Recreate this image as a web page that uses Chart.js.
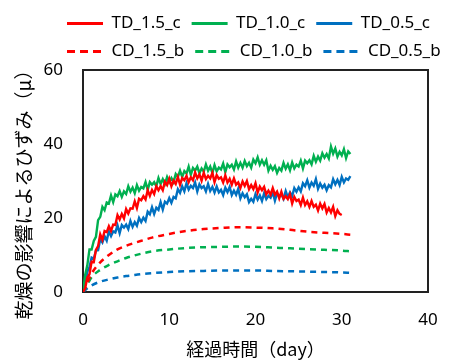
<!DOCTYPE html>
<html>
<head>
<meta charset="utf-8">
<script src="https://cdn.jsdelivr.net/npm/chart.js@4"></script>
<style>
  html, body { margin: 0; padding: 0; background: #fff; }
</style>
</head>
<body>
<canvas id="myChart" width="450" height="360"></canvas>
<script>
// measured series are read every quarter day
const tdDays = [0, 0.25, 0.5, 0.75, 1, 1.25, 1.5, 1.75, 2, 2.25, 2.5, 2.75, 3, 3.25, 3.5, 3.75,
  4, 4.25, 4.5, 4.75, 5, 5.25, 5.5, 5.75, 6, 6.25, 6.5, 6.75, 7, 7.25, 7.5, 7.75,
  8, 8.25, 8.5, 8.75, 9, 9.25, 9.5, 9.75, 10, 10.25, 10.5, 10.75, 11, 11.25, 11.5, 11.75,
  12, 12.25, 12.5, 12.75, 13, 13.25, 13.5, 13.75, 14, 14.25, 14.5, 14.75, 15, 15.25, 15.5, 15.75,
  16, 16.25, 16.5, 16.75, 17, 17.25, 17.5, 17.75, 18, 18.25, 18.5, 18.75, 19, 19.25, 19.5, 19.75,
  20, 20.25, 20.5, 20.75, 21, 21.25, 21.5, 21.75, 22, 22.25, 22.5, 22.75, 23, 23.25, 23.5, 23.75,
  24, 24.25, 24.5, 24.75, 25, 25.25, 25.5, 25.75, 26, 26.25, 26.5, 26.75, 27, 27.25, 27.5, 27.75,
  28, 28.25, 28.5, 28.75, 29, 29.25, 29.5, 29.75, 30, 30.25, 30.5, 30.75, 31]

// TD_1.5_c stops at day 30
const td15 = [0, 1.0, 3.9, 4.8, 8.2, 8.1, 11.4, 12.4, 15.6, 14.1, 16.5, 16.2, 17.8, 16.5, 18.2, 18.1,
  20.8, 19.6, 21.1, 19.9, 22.4, 21.2, 22.6, 22.5, 24.5, 22.7, 25.2, 24.8, 25.9, 25.0, 27.5, 26.0,
  27.6, 26.5, 28.6, 27.5, 28.6, 27.5, 29.8, 28.9, 30.6, 28.6, 30.1, 29.2, 31.1, 29.0, 30.8, 30.2,
  31.4, 29.7, 31.0, 30.2, 32.3, 30.7, 31.8, 30.1, 32.2, 30.5, 31.4, 30.7, 32.2, 29.7, 31.6, 30.6,
  31.0, 29.6, 31.5, 29.6, 30.6, 29.0, 30.7, 29.0, 29.6, 28.1, 29.9, 28.7, 30.0, 27.8, 28.9, 27.8,
  29.4, 26.9, 28.5, 27.5, 28.4, 26.4, 27.4, 26.3, 28.1, 26.3, 27.1, 25.3, 27.1, 25.2, 25.9, 25.1,
  26.4, 23.9, 25.7, 24.6, 25.0, 23.5, 25.5, 23.5, 24.5, 23.0, 24.6, 23.0, 23.6, 22.0, 23.9, 22.6,
  23.8, 21.5, 22.7, 21.5, 23.0, 20.5, 22.1, 21.1, 20.8]

const td10 = [0, 4.6, 7.2, 11.5, 11.5, 13.8, 14.9, 19.4, 20.3, 23.0, 22.1, 24.2, 23.9, 26.1, 24.3, 26.4,
  25.9, 27.3, 25.7, 27.2, 26.5, 28.6, 27.1, 28.2, 26.7, 28.9, 27.4, 28.4, 28.0, 29.7, 27.6, 29.7,
  29.0, 29.7, 28.6, 30.8, 29.2, 30.5, 29.2, 31.1, 29.7, 30.8, 29.7, 31.9, 31.1, 32.8, 31.1, 32.7,
  32.0, 33.9, 31.7, 33.5, 32.8, 33.9, 32.1, 33.4, 32.5, 34.5, 32.8, 33.9, 32.2, 34.3, 32.6, 33.6,
  33.1, 34.7, 32.4, 34.5, 33.7, 34.4, 33.1, 35.3, 33.6, 34.9, 33.6, 35.4, 34.0, 34.9, 33.6, 35.8,
  34.8, 36.4, 34.4, 35.6, 34.4, 35.6, 32.8, 34.1, 33.0, 34.0, 32.2, 33.5, 32.8, 34.9, 33.3, 34.5,
  32.9, 35.0, 33.4, 34.4, 33.9, 35.5, 33.4, 35.5, 34.8, 35.6, 34.5, 36.8, 35.2, 36.6, 35.5, 37.5,
  36.3, 37.3, 36.1, 39.3, 37.4, 38.8, 36.6, 37.9, 36.9, 38.6, 36.2, 38.0, 37.3]

const td05 = [0, 1.8, 5.5, 6.7, 9.3, 9.0, 11.2, 11.3, 14.3, 13.4, 15.1, 13.9, 16.4, 15.1, 16.4, 16.1,
  18.0, 15.9, 18.1, 17.4, 18.2, 17.0, 19.2, 17.6, 18.9, 17.9, 20.0, 18.9, 20.1, 19.2, 21.7, 21.0,
  22.9, 21.1, 22.8, 22.2, 24.3, 22.3, 24.4, 23.9, 25.4, 24.1, 25.7, 25.3, 27.8, 26.8, 28.6, 27.2,
  29.4, 27.7, 28.7, 28.1, 29.6, 27.2, 29.1, 28.1, 28.6, 27.2, 29.2, 27.3, 28.4, 26.9, 28.5, 26.9,
  27.6, 26.2, 28.2, 27.0, 28.4, 26.2, 27.4, 26.3, 27.9, 25.3, 26.7, 25.6, 26.4, 24.3, 25.2, 24.4,
  26.5, 25.0, 26.1, 24.6, 26.7, 25.1, 26.0, 25.5, 27.0, 24.7, 26.7, 25.8, 26.4, 25.2, 27.3, 25.6,
  26.9, 25.9, 28.1, 27.1, 28.3, 27.2, 29.4, 28.6, 30.2, 28.2, 29.6, 28.7, 30.5, 27.9, 29.3, 28.2,
  29.0, 27.5, 28.9, 28.3, 30.5, 29.1, 30.3, 28.9, 31.1, 29.6, 30.7, 30.3, 31.3]

// calculated (smooth) series
const cdDays = [0, 0.5, 1, 2, 3, 4, 5, 6, 7, 8, 10, 12, 14, 16, 18, 20, 22, 24, 26, 28, 30, 31]
const cd15 = [0, 2.5, 5, 8, 10, 11.5, 12.5, 13.3, 14, 14.7, 15.7, 16.5, 17, 17.3, 17.5, 17.4, 17.2, 16.8, 16.3, 16, 15.7, 15.5]
const cd10 = [0, 2, 4, 6, 7.3, 8.3, 9.2, 9.9, 10.5, 11, 11.5, 11.9, 12.1, 12.2, 12.3, 12.2, 12, 11.8, 11.6, 11.4, 11.2, 11.0]
const cd05 = [0, 1, 1.8, 2.8, 3.4, 3.9, 4.3, 4.6, 4.9, 5.1, 5.4, 5.6, 5.7, 5.8, 5.8, 5.8, 5.7, 5.6, 5.5, 5.4, 5.3, 5.2]

const xTicks = [0, 10, 20, 30, 40]
const yTicks = [0, 20, 40, 60]

const RED = '#ff0000'
const GREEN = '#00b050'
const BLUE = '#0070c0'

const pts = (xs, ys) => ys.map((y, i) => ({x: xs[i], y: y}))

const solid = (label, xs, ys, color) => ({
  label, data: pts(xs, ys), borderColor: color, backgroundColor: color,
  borderWidth: 2.4, pointRadius: 0, tension: 0,
})
const dashed = (label, xs, ys, color) => ({
  label, data: pts(xs, ys), borderColor: color, backgroundColor: color,
  borderWidth: 2.5, borderDash: [6, 5], pointRadius: 0, cubicInterpolationMode: 'monotone',
})

const FONT = "'Noto Sans', 'Noto Sans CJK JP', sans-serif"
const JP = "'Noto Sans CJK JP', 'Noto Sans', sans-serif"

// black frame round the plot area
const frame = {
  id: 'frame',
  beforeDatasetsDraw(chart) {
    const {ctx, chartArea: a} = chart
    ctx.save()
    ctx.strokeStyle = '#222'
    ctx.lineWidth = 2
    ctx.strokeRect(a.left, a.top, a.right - a.left, a.bottom - a.top)
    ctx.restore()
  },
}

// move the legend block to where the reference has it
const legendShift = {
  id: 'legendShift',
  beforeDraw(chart) {
    const lg = chart.legend
    if (lg._moved) return
    lg.left += 56
    lg.right += 56
    lg._moved = true
  },
}

const ctx = document.getElementById('myChart').getContext('2d')
new Chart(ctx, {
  type: 'line',
  data: {
    datasets: [
      solid('TD_1.5_c', tdDays, td15, RED),
      solid('TD_1.0_c', tdDays, td10, GREEN),
      solid('TD_0.5_c', tdDays, td05, BLUE),
      dashed('CD_1.5_b', cdDays, cd15, RED),
      dashed('CD_1.0_b', cdDays, cd10, GREEN),
      dashed('CD_0.5_b', cdDays, cd05, BLUE),
    ],
  },
  options: {
    responsive: false,
    animation: false,
    layout: {padding: {left: 0, right: 0, top: 4, bottom: 0}},
    plugins: {
      legend: {
        position: 'top',
        align: 'start',
        labels: {
          usePointStyle: true,
          pointStyle: 'line',
          pointStyleWidth: 36,
          padding: 11,
          color: '#000',
          font: {family: FONT, size: 17},
          generateLabels(chart) {
            const items = Chart.defaults.plugins.legend.labels.generateLabels(chart)
            items.forEach(it => {
              const ds = chart.data.datasets[it.datasetIndex]
              it.lineDash = ds.borderDash ? [8, 5] : []
              it.lineWidth = 3
              it.strokeStyle = ds.borderColor
            })
            return items
          },
        },
      },
      tooltip: {enabled: false},
    },
    scales: {
      x: {
        type: 'linear',
        min: 0, max: 40,
        afterBuildTicks: (s) => { s.ticks = xTicks.map(v => ({value: v})) },
        afterFit: (s) => { s.height = 68; s.paddingLeft = 0; s.paddingRight = 22 },
        grid: {display: false, drawTicks: false},
        border: {display: false},
        ticks: {padding: 18, color: '#000', font: {family: FONT, size: 17}},
        title: {display: true, text: '経過時間（day）', color: '#000',
          padding: {top: 8, bottom: 0}, font: {family: JP, size: 18}},
      },
      y: {
        min: 0, max: 60,
        afterBuildTicks: (s) => { s.ticks = yTicks.map(v => ({value: v})) },
        afterFit: (s) => { s.width = 83 },
        grid: {display: false, drawTicks: false},
        border: {display: false},
        ticks: {padding: 20, color: '#000', font: {family: FONT, size: 17}},
        title: {display: true, text: '乾燥の影響によるひずみ（μ）　  ', color: '#000',
          padding: {top: 12, bottom: 0}, font: {family: JP, size: 19}},
      },
    },
  },
  plugins: [frame, legendShift],
})
</script>
</body>
</html>
